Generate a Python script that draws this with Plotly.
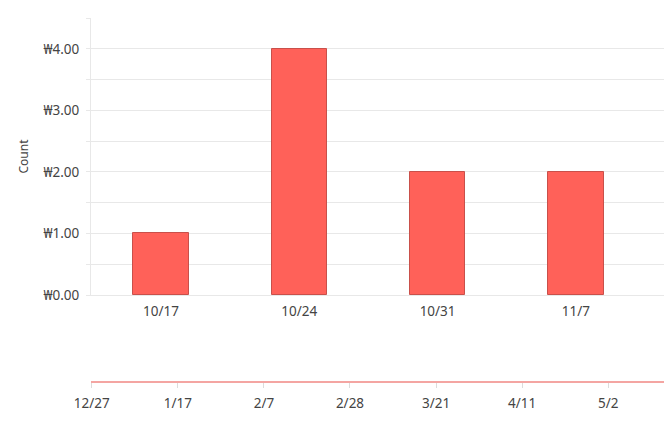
import plotly.graph_objects as go

# weekly counts
weeks = ['10/17', '10/24', '10/31', '11/7']
counts = [1, 4, 2, 2]

# y axis labels
y_ticks = [0, 1, 2, 3, 4]
y_labels = ['₩0.00', '₩1.00', '₩2.00', '₩3.00', '₩4.00']

# navigator axis (bottom) - date span and tick step
nav_start = '2020-12-26 20:00'
nav_end = '2021-05-15 14:00'
nav_tick0 = '2020-12-27'
nav_step_days = 21

font_family = 'Noto Sans, DejaVu Sans, sans-serif'
grid = '#e8e8e8'
txt = '#444444'

fig = go.Figure()
fig.add_trace(go.Bar(
    x=weeks,
    y=counts,
    width=0.4,
    marker=dict(color='#ff6159', line=dict(color='#c9504a', width=1)),
    xaxis='x',
    yaxis='y',
    showlegend=False,
))
# empty trace so the navigator axis gets drawn
fig.add_trace(go.Scatter(x=[], y=[], xaxis='x2', yaxis='y2',
                         showlegend=False, hoverinfo='skip'))

fig.update_layout(
    width=664,
    height=434,
    margin=dict(l=91, r=0, t=18, b=53),
    paper_bgcolor='white',
    plot_bgcolor='white',
    font=dict(family=font_family, size=13.5, color=txt),
    bargap=0,
    xaxis=dict(
        type='category',
        range=[-0.506, 3.637],
        anchor='y',
        automargin=False,
        showgrid=False,
        showline=True,
        linecolor=grid,
        linewidth=1,
        ticks='',
        ticklabelstandoff=4,
        zeroline=False,
    ),
    yaxis=dict(
        domain=[(381 - 295) / 363, 1],
        range=[0, 4.5],
        anchor='x',
        automargin=False,
        tickvals=y_ticks,
        ticktext=y_labels,
        showgrid=True,
        gridcolor=grid,
        ticks='outside',
        ticklen=4,
        tickcolor=grid,
        ticklabelstandoff=4,
        showline=True,
        linecolor=grid,
        zeroline=False,
        minor=dict(dtick=0.5, showgrid=True, gridcolor=grid,
                   ticks='outside', ticklen=4, tickcolor=grid),
        title=dict(text='Count', font=dict(size=12, color=txt), standoff=12),
    ),
    xaxis2=dict(
        type='date',
        range=[nav_start, nav_end],
        anchor='y2',
        side='bottom',
        automargin=False,
        tick0=nav_tick0,
        dtick=nav_step_days * 86400000,
        tickformat='%-m/%-d',
        showgrid=False,
        showline=True,
        linecolor='#f4a5a2',
        linewidth=2,
        ticks='outside',
        ticklen=5,
        tickcolor='#dcdcdc',
        ticklabelstandoff=4,
        zeroline=False,
    ),
    yaxis2=dict(
        domain=[0, 0.01],
        anchor='x2',
        visible=False,
    ),
)

# drop the default page margin so the figure sits at the window corner
fig.write_html('out.html', config={'displayModeBar': False},
               post_script="document.body.style.margin='0';")
